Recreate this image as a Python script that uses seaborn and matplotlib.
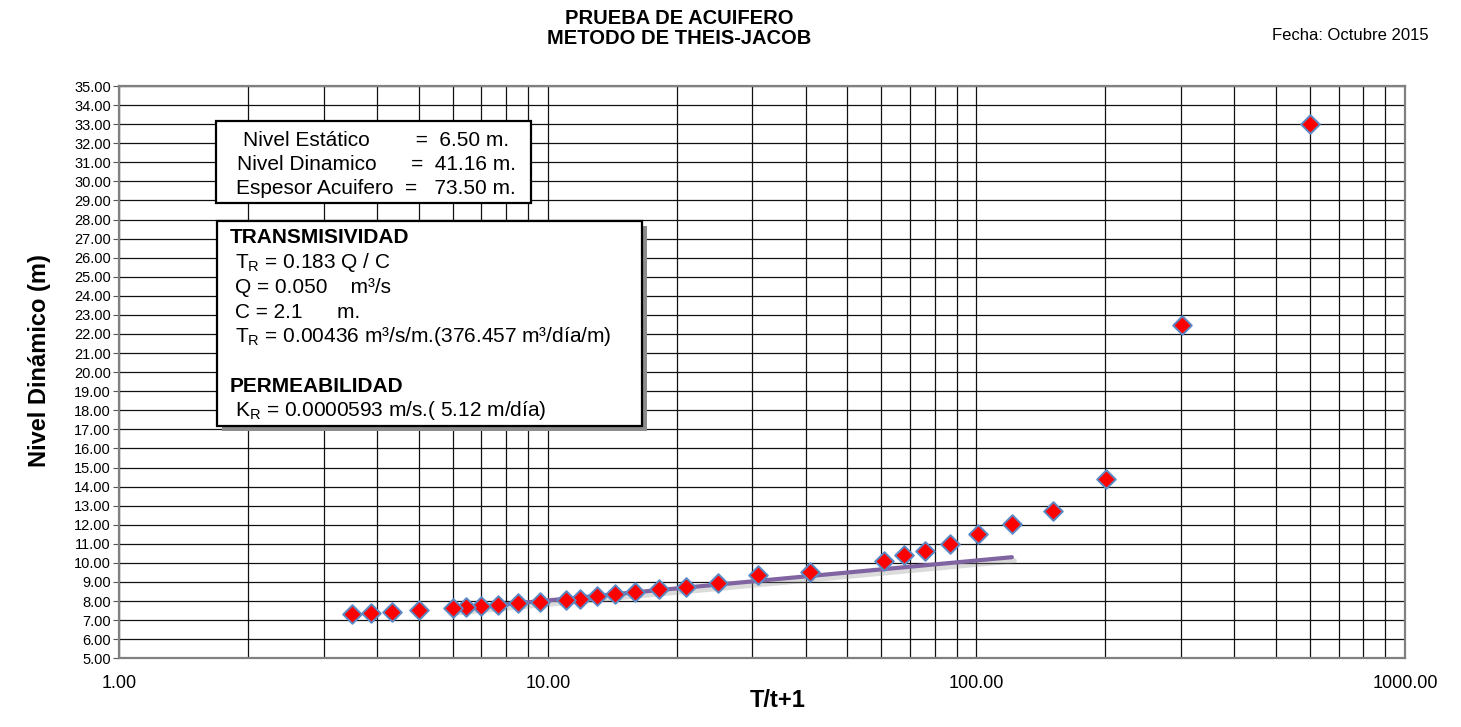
import matplotlib
matplotlib.use("Agg")
import matplotlib.pyplot as plt
import matplotlib.patheffects as pe
from matplotlib.patches import Rectangle
from matplotlib.ticker import FixedLocator, FuncFormatter, LogLocator, MultipleLocator, NullFormatter
import seaborn as sns
import pandas as pd

# valores: T/t+1 vs nivel dinamico (m)
t_ratio = [601, 301, 201, 151, 121, 101, 86.71, 76, 67.67, 61, 41, 31, 25, 21, 18.14,
           16, 14.33, 13, 11.91, 11, 9.57, 8.5, 7.67, 7, 6.45, 6, 5, 4.33, 3.86, 3.5]
nivel = [33.00, 22.48, 14.42, 12.74, 12.03, 11.52, 10.98, 10.64, 10.42, 10.12, 9.54, 9.37,
         8.93, 8.75, 8.64, 8.48, 8.37, 8.27, 8.13, 8.06, 7.97, 7.88, 7.78, 7.74, 7.67, 7.62,
         7.53, 7.41, 7.36, 7.32]

# recta de ajuste de Jacob
fit_x = [6.0, 121.0]
fit_y = [7.57, 10.30]

x_major = [1, 10, 100, 1000]

box1_lines = [
    "Nivel Estático        =  6.50 m.",
    "Nivel Dinamico      =  41.16 m.",
    "Espesor Acuifero  =   73.50 m.",
]
box2_lines = [
    ("TRANSMISIVIDAD", True),
    (r"T$_\mathregular{R}$ = 0.183 Q / C", False),
    ("Q = 0.050    m³/s", False),
    ("C = 2.1      m.", False),
    (r"T$_\mathregular{R}$ = 0.00436 m³/s/m.(376.457 m³/día/m)", False),
    ("", False),
    ("PERMEABILIDAD", True),
    (r"K$_\mathregular{R}$ = 0.0000593 m/s.( 5.12 m/día)", False),
]

sns.set_theme(style="white")
plt.rcParams["font.family"] = ["Liberation Sans", "DejaVu Sans"]
plt.rcParams["mathtext.fontset"] = "custom"
plt.rcParams["mathtext.rm"] = "Liberation Sans"
for key in ["text.color", "axes.labelcolor", "xtick.color", "ytick.color"]:
    plt.rcParams[key] = "black"

W, H = 1461, 727
fig = plt.figure(figsize=(W / 100, H / 100), dpi=100)
ax = fig.add_axes([119.3 / W, 1 - 658.3 / H, (1405 - 119.3) / W, (658.3 - 86) / H])

df = pd.DataFrame({"t": t_ratio, "nivel": nivel})
fit = pd.DataFrame({"t": fit_x, "nivel": fit_y})

sns.lineplot(data=fit, x="t", y="nivel", ax=ax, color="#8064a2", linewidth=3.0, zorder=4,
             path_effects=[pe.SimpleLineShadow(offset=(1.5, -2.5), shadow_color="#888888",
                                               alpha=0.3, linewidth=4),
                           pe.Normal()])
sns.scatterplot(data=df, x="t", y="nivel", ax=ax, marker="D", s=90, color="#ff0000",
                edgecolor="#5a8ac6", linewidth=1.4, zorder=5)

ax.set_xscale("log")
ax.set_xlim(1, 1000)
ax.set_ylim(5, 35)

ax.xaxis.set_major_locator(FixedLocator(x_major))
ax.xaxis.set_minor_locator(LogLocator(base=10, subs=range(2, 10)))
ax.xaxis.set_major_formatter(FuncFormatter(lambda v, p: f"{v:.2f}"))
ax.xaxis.set_minor_formatter(NullFormatter())
ax.yaxis.set_major_locator(MultipleLocator(1))
ax.yaxis.set_major_formatter(FuncFormatter(lambda v, p: f"{v:.2f}"))

ax.grid(True, which="major", axis="y", color="#111111", linewidth=0.9)
ax.grid(True, which="both", axis="x", color="#111111", linewidth=0.9)
ax.set_axisbelow(True)

ax.tick_params(axis="y", which="major", direction="out", length=4, width=0.8,
               color="#555555", labelsize=10.5, pad=2, left=True)
ax.tick_params(axis="x", which="both", length=0, labelsize=13, pad=12)
for s in ax.spines.values():
    s.set_color("#808080")
    s.set_linewidth(1.6)

ax.set_xlabel("T/t+1", fontsize=17, fontweight="bold")
ax.set_ylabel("Nivel Dinámico (m)", fontsize=17, fontweight="bold")
ax.xaxis.set_label_coords(0.512, -0.054)
ax.yaxis.set_label_coords(-0.053, 0.52)

# titulo y fecha
fig.text(679 / W, 1 - 18 / H, "PRUEBA DE ACUIFERO", ha="center", va="center",
         fontsize=14.5, fontweight="bold")
fig.text(679 / W, 1 - 38 / H, "METODO DE THEIS-JACOB", ha="center", va="center",
         fontsize=14.5, fontweight="bold")
fig.text(1350 / W, 1 - 36 / H, "Fecha: Octubre 2015", ha="center", va="center", fontsize=12)

# cuadro de niveles
fig.add_artist(Rectangle((216 / W, 1 - 203 / H), 315 / W, 82 / H, transform=fig.transFigure,
                         facecolor="white", edgecolor="black", linewidth=1.6, zorder=6))
for i, line in enumerate(box1_lines):
    fig.text(376 / W, 1 - (140 + 24.5 * i) / H, line, ha="center", va="center",
             fontsize=15, zorder=7)

# cuadro de transmisividad con sombra
fig.add_artist(Rectangle((222 / W, 1 - 431 / H), 425 / W, 205 / H, transform=fig.transFigure,
                         facecolor="#8c8c8c", edgecolor="none", zorder=5))
fig.add_artist(Rectangle((217 / W, 1 - 426 / H), 425 / W, 205 / H, transform=fig.transFigure,
                         facecolor="white", edgecolor="black", linewidth=1.6, zorder=6))
for i, (line, bold) in enumerate(box2_lines):
    if not line:
        continue
    fig.text((230 if bold else 235) / W, 1 - (238 + 24.7 * i) / H, line, ha="left",
             va="center", fontsize=15, fontweight="bold" if bold else "normal", zorder=7)

fig.savefig("out.png", dpi=100)
